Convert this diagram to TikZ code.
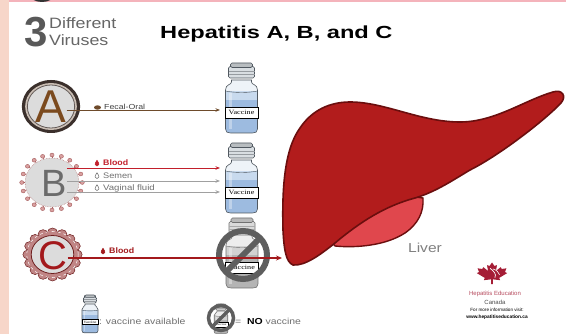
\documentclass[tikz,border=0pt]{standalone}
\usepackage{fontspec}
\setmainfont{Liberation Sans}
\newfontfamily\vialfont{Liberation Serif}
\usepackage{graphicx}
\usetikzlibrary{arrows.meta}

\definecolor{peach}{HTML}{F7D6C9}
\definecolor{pinktop}{HTML}{F4B3BB}
\definecolor{liverred}{HTML}{B21C1C}
\definecolor{liverdark}{HTML}{6B0E0E}
\definecolor{gallred}{HTML}{E0474D}
\definecolor{hepbrown}{HTML}{6E4B2B}
\definecolor{bloodred}{HTML}{C21F2B}
\definecolor{cred}{HTML}{A3191C}
\definecolor{arrowgray}{HTML}{A0A0A0}
\definecolor{textgray}{HTML}{707070}
\definecolor{vialblue}{HTML}{9DBBE0}
\definecolor{vialpale}{HTML}{C8DAEE}
\definecolor{vialglass}{HTML}{EEF3F8}
\definecolor{vialcap}{HTML}{D9DEE2}
\definecolor{vialline}{HTML}{505860}
\definecolor{greyliquid}{HTML}{B4B4B4}
\definecolor{greypale}{HTML}{D2D2D2}
\definecolor{greyglass}{HTML}{EDEDED}
\definecolor{greycap}{HTML}{DADADA}
\definecolor{greyline}{HTML}{707070}
\definecolor{nosigngray}{HTML}{5E5E5E}
\definecolor{discgray}{HTML}{DCDCDC}
\definecolor{aring}{HTML}{3B302C}
\definecolor{aringlight}{HTML}{CBBFB5}
\definecolor{aletter}{HTML}{7B4A1E}
\definecolor{bspike}{HTML}{A35858}
\definecolor{bbulb}{HTML}{D9A0A0}
\definecolor{cring}{HTML}{C08585}
\definecolor{cdark}{HTML}{6E1F1F}
\definecolor{logored}{HTML}{A51E36}

\newcommand\hstretch[2]{\scalebox{#1}[1]{#2}}
\newcommand\fsz[1]{\fontsize{#1}{#1}\selectfont}

% a vial, origin at the top centre, y pointing down
% #1 liquid, #2 liquid top band, #3 glass, #4 cap, #5 outline
\newcommand\vialshape[5]{%
  \def\vialbody{(-10,17) -- (-10,19) .. controls (-10,22) and (-16,21) .. (-16,27)
    -- (-16,66) .. controls (-16,69) and (-14,70) .. (-11,70) -- (11,70)
    .. controls (14,70) and (16,69) .. (16,66) -- (16,27)
    .. controls (16,21) and (10,22) .. (10,19) -- (10,17) -- cycle}%
  \fill[#3] \vialbody;
  \begin{scope}
    \clip \vialbody;
    \fill[#1] (-17,28) rectangle (17,71);
    \fill[#2] (-17,28) rectangle (17,37);
    \fill[white,opacity=0.35] (-13,30) rectangle (-10,66);
  \end{scope}
  \draw[#5,line width=0.6] \vialbody;
  \draw[#5,line width=0.4] (-16,28) .. controls (-6,30) and (6,30) .. (16,28);
  \filldraw[fill=#4,draw=#5,line width=0.6,rounded corners=1.5] (-13,3.5) rectangle (13,15);
  \filldraw[fill=#4!85!black,draw=#5,line width=0.6,rounded corners=1.5] (-11,0) rectangle (11,4.5);
  \draw[#5!60,line width=0.3] (-13,8) -- (13,8) (-13,11) -- (13,11);
  \filldraw[fill=white,draw=black,line width=0.5] (-16.5,44) rectangle (16.5,55);
  \node[font=\vialfont\fsz{6.5},inner sep=0] at (0,49.8) {\hstretch{1.25}{Vaccine}};
}

\tikzset{
  pics/vial/.style={code={\vialshape{vialblue}{vialpale}{vialglass}{vialcap}{vialline}}},
  pics/greyvial/.style={code={\vialshape{greyliquid}{greypale}{greyglass}{greycap}{greyline}}},
  nosign/.style={draw=nosigngray,line width=6},
  route/.style={line width=0.8,-{Stealth[length=4.5,width=3.5]}},
  routeA/.style={route,draw=hepbrown},
  routeBlood/.style={route,draw=bloodred},
  routeGray/.style={route,draw=arrowgray},
  routeC/.style={line width=1.5,draw=cred,-{Stealth[length=6,width=5]}},
  letter/.style={inner sep=0,font=\fsz{#1}},
  label/.style={anchor=west,inner sep=0,font=\fsz{8}},
  droplet/.style={line width=0.5},
}

\newcommand\dropat[3]{% position, fill, draw
  \filldraw[droplet,fill=#2,draw=#3,shift={#1}] (0,-3.2) .. controls (2.6,0) and (2.6,2.6) .. (0,2.6)
    .. controls (-2.6,2.6) and (-2.6,0) .. (0,-3.2) -- cycle;}

\begin{document}
\begin{tikzpicture}[x=1pt,y=-1pt]
\useasboundingbox (0,0) rectangle (566,334);
\fill[white] (0,0) rectangle (566,334);
\fill[peach] (0,0) rectangle (9,334);
\fill[pinktop] (9,0) rectangle (566,2.5);
\begin{scope}
  \clip (0,0) rectangle (566,334);
  \fill[black!80] (42,-5) ellipse [x radius=12, y radius=7];
\end{scope}

% heading
\node[inner sep=0,font=\fsz{42}\bfseries,text=black!65] (three) at (36,32) {3};
\node[anchor=base west,inner sep=0,font=\fsz{15},text=black!60] (diff) at (49,29) {\hstretch{1.19}{Different}};
\node[anchor=base west,inner sep=0,font=\fsz{15},text=black!60] (vir) at (49,46) {\hstretch{1.19}{Viruses}};
\node[anchor=base west,inner sep=0,font=\fsz{17.5}\bfseries] (title) at (160,39) {\hstretch{1.35}{Hepatitis A, B, and C}};

% liver with gallbladder
\filldraw[fill=gallred,draw=liverdark,line width=1.4]
  (335,246) .. controls (355,248) and (385,246) .. (405,233)
  .. controls (418,224) and (424,212) .. (423,198) -- (400,195) -- (330,240) -- cycle;
\filldraw[fill=liverred,draw=liverdark,line width=1.6]
  (293,265) .. controls (286,262) and (284,250) .. (283,230)
  .. controls (282,190) and (284,150) .. (300,128)
  .. controls (312,110) and (330,102) .. (350,102)
  .. controls (385,102) and (420,122) .. (460,122)
  .. controls (495,122) and (525,100) .. (553,92)
  .. controls (562,89) and (567,96) .. (561,103)
  .. controls (545,120) and (500,155) .. (470,170)
  .. controls (450,182) and (435,192) .. (415,198)
  .. controls (385,206) and (360,222) .. (335,243)
  .. controls (320,255) and (305,266) .. (293,265) -- cycle;
\node[inner sep=0,font=\fsz{13},text=black!50] (liverlbl) at (425,248) {\hstretch{1.2}{Liver}};

% vials
\pic at (241.5,63) {vial};
\pic at (241.5,143) {vial};
\pic at (242,218) {greyvial};
\draw[nosign] (243,255) circle (24);
\draw[nosign] (243,255) ++(135:24) -- ++(-45:48);

% virus A
\begin{scope}[shift={(51,106.5)},xscale=1.1]
  \fill[aring] (0,0) circle (26.5);
  \fill[aringlight] (0,0) circle (23.5);
  \filldraw[fill=discgray,draw=aring!80,line width=0.8] (0,0) circle (21.5);
\end{scope}
\node[letter=46,text=aletter] (A) at (51,107) {A};

% virus B
\begin{scope}[shift={(52,182.5)},xscale=1.1]
  \foreach \a in {0,18,...,342}{
    \draw[bspike,line width=0.6] (\a:24) -- (\a:27);
    \filldraw[fill=bbulb,draw=bspike,line width=0.4] (\a:27.5) circle (1.9);
  }
  \filldraw[fill=discgray,draw=bspike!70,line width=0.6,densely dotted] (0,0) circle (24.5);
\end{scope}
\node[letter=38,text=black!58] (B) at (54,183) {B};

% virus C
\begin{scope}[shift={(52.5,254.5)},xscale=1.12]
  \foreach \a in {0,22.5,...,337.5}
    \filldraw[fill=cring,draw=cdark,line width=0.5] (\a:22) circle (4.5);
  \fill[cring] (0,0) circle (22.5);
  \draw[white,dashed,line width=0.5] (0,0) circle (23);
  \filldraw[fill=discgray,draw=cdark,line width=0.8] (0,0) circle (19);
\end{scope}
\node[letter=40,text=cred] (C) at (53,256) {C};

% routes of transmission
\coordinate (aEnd) at (220,110);
\coordinate (bEnd1) at (220,168);
\coordinate (bEnd2) at (220,181);
\coordinate (bEnd3) at (220,192);
\coordinate (cEnd) at (282,258);

\draw[routeA] (A.east |- aEnd) -- (aEnd);
\fill[hepbrown] (97.5,107.5) ellipse [x radius=3.5, y radius=2.2];
\node[label,text=black!75,font=\fsz{7.3}] (fecal) at (104,107) {\hstretch{1.2}{Fecal-Oral}};

\draw[routeBlood] (B.east |- bEnd1) -- (bEnd1);
\draw[routeGray] (B.east |- bEnd2) -- (bEnd2);
\draw[routeGray] (B.east |- bEnd3) -- (bEnd3);
\dropat{(97,163.5)}{bloodred}{bloodred}
\dropat{(97,176)}{white}{black!60}
\dropat{(97,188)}{white}{black!60}
\node[label,text=bloodred,font=\fsz{8}\bfseries] (bblood) at (103,163) {\hstretch{1.1}{Blood}};
\node[label,text=textgray] (semen) at (103,176) {\hstretch{1.15}{Semen}};
\node[label,text=textgray] (vag) at (103,188) {\hstretch{1.2}{Vaginal fluid}};

\draw[routeC] (C.east |- cEnd) -- (cEnd);
\dropat{(103,251.5)}{cred}{cred}
\node[label,text=cred,font=\fsz{8}\bfseries] (cblood) at (109,251) {\hstretch{1.1}{Blood}};

% legend
\pic[xscale=0.5,yscale=0.54,transform shape] at (90,295) {vial};
\node[anchor=base west,inner sep=0,font=\fsz{8.7},text=textgray] (yes) at (99,325) {\hstretch{1.2}{: vaccine available}};
\pic[xscale=0.42,yscale=0.42,transform shape] at (221,304) {greyvial};
\draw[nosign,line width=3.5] (221,318) circle (12.5);
\draw[nosign,line width=3.5] (221,318) ++(135:12.5) -- ++(-45:25);
\node[anchor=base west,inner sep=0,font=\fsz{8.7},text=textgray] (no) at (235,325) {\hstretch{1.2}{=~~\textcolor{black}{\bfseries NO} vaccine}};

% association logo
\begin{scope}[shift={(492,277)},xscale=1.9,yscale=-1.45]
  \fill[logored] (0,10) -- (-1.3,7.6) -- (-2.6,8.2) -- (-2.1,4.2) -- (-4.6,6.8) -- (-5.1,5.5)
    -- (-7.6,6.0) -- (-6.8,3.4) -- (-8.0,2.7) -- (-3.8,-0.6) -- (-4.3,-2.2) -- (-0.4,-1.6)
    -- (-0.5,-5.0) -- (0.5,-5.0) -- (0.4,-1.6) -- (4.3,-2.2) -- (3.8,-0.6) -- (8.0,2.7)
    -- (6.8,3.4) -- (7.6,6.0) -- (5.1,5.5) -- (4.6,6.8) -- (2.1,4.2) -- (2.6,8.2) -- (1.3,7.6) -- cycle;
  \draw[white,line width=0.7] (-1,6) .. controls (1,4) and (2.5,2) .. (1.5,-0.5);
  \draw[white,line width=0.6] (0.5,5.5) .. controls (2.5,5) and (3.5,3) .. (4,1.5);
\end{scope}
\node[inner sep=0,font=\fsz{6},text=logored!80] (logo1) at (495,293.5) {Hepatitis Education};
\node[inner sep=0,font=\fsz{6},text=black!70] (logo2) at (495,302) {Canada};
\node[inner sep=0,font=\fsz{4.6}] (logo3) at (497,310) {For more information visit:};
\node[inner sep=0,font=\fsz{4.8}\bfseries] (logo4) at (497,317) {www.hepatitiseducation.ca};
\end{tikzpicture}
\end{document}
